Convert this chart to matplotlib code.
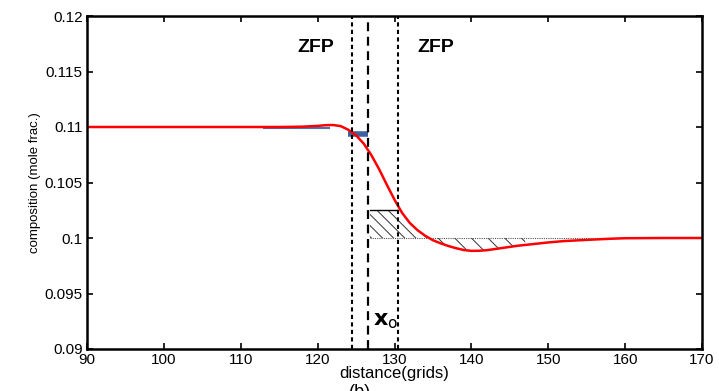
import matplotlib
matplotlib.use("Agg")
import matplotlib.pyplot as plt
import numpy as np

plt.rcParams['font.family'] = ['Liberation Sans', 'DejaVu Sans']
plt.rcParams['hatch.linewidth'] = 0.7

# red composition profile
dist = [90, 100, 110, 115, 118, 120, 121, 122, 123, 124, 125, 126, 127, 128, 129, 130,
        131, 132, 133, 134, 135, 136, 137, 138, 139, 140, 141, 142, 144, 146, 148,
        150, 152, 155, 158, 160, 165, 170]
comp = [0.1100, 0.1100, 0.1100, 0.1100, 0.11003, 0.11010, 0.11016, 0.11018, 0.11008,
        0.10975, 0.10925, 0.10850, 0.10745, 0.10620, 0.10480, 0.10345,
        0.10225, 0.10135, 0.10070, 0.10020, 0.09980, 0.09952, 0.09928, 0.09908,
        0.09892, 0.09884, 0.09885, 0.09890, 0.09910, 0.09930, 0.09945,
        0.09960, 0.09972, 0.09983, 0.09993, 0.09998, 0.10000, 0.10000]

# blue step segments
blue_thin_x = [113, 121.5]
blue_thin_y = [0.10995, 0.10995]
blue_bar_x = [124.0, 126.6]
blue_bar_y = [0.1094, 0.1094]

# boundaries
zfp_left = 124.5
x0_line = 126.5
zfp_right = 130.5
hatch_top = 0.1025
base = 0.1

xticks = [90, 100, 110, 120, 130, 140, 150, 160, 170]
yticks = [0.09, 0.095, 0.1, 0.105, 0.11, 0.115, 0.12]
ytick_labels = ['0.09', '0.095', '0.1', '0.105', '0.11', '0.115', '0.12']

fig = plt.figure(figsize=(7.19, 3.91), dpi=100)
ax = fig.add_axes([87/719, 1-349/391, (702-87)/719, (349-16)/391])

d = np.array(dist); c = np.array(comp)

# hatched region 1 (between 0.1 and min(curve, top))
m1 = (d >= 127) & (d <= 134.5)
x1 = np.concatenate([[126.8], d[m1], [134.5]])
y1 = np.interp(x1, d, c)
ax.fill_between(x1, base, np.minimum(y1, hatch_top), facecolor='none', edgecolor='#333333',
                hatch='\\\\\\', linewidth=0)
# hatched region 2 (curve below 0.1)
m2 = (d >= 134.5) & (d <= 147)
x2 = np.concatenate([[134.5], d[m2], [147]])
y2 = np.interp(x2, d, c)
ax.fill_between(x2, y2, base, facecolor='none', edgecolor='#333333',
                hatch='\\\\', linewidth=0)
ax.plot([126.8, zfp_right], [hatch_top, hatch_top], color='black', lw=1.0)
ax.plot([126.8, 160], [base, base], color='#555555', lw=0.8, ls=(0, (1, 1)))

ax.plot(blue_thin_x, blue_thin_y, color='#4a72b0', lw=1.5)
ax.plot(blue_bar_x, blue_bar_y, color='#3f63a0', lw=4, solid_capstyle='butt')

ax.plot(dist, comp, color='red', lw=1.8)

ax.axvline(zfp_left, color='black', lw=1.5, ls=(0, (2, 1.6)))
ax.axvline(x0_line, color='black', lw=1.6, ls=(0, (4, 2.5)))
ax.axvline(zfp_right, color='black', lw=1.5, ls=(0, (2, 1.6)))

ax.text(119.8, 0.1172, 'ZFP', fontsize=14, fontweight='bold', ha='center', va='center')
ax.text(135.4, 0.1172, 'ZFP', fontsize=14, fontweight='bold', ha='center', va='center')
ax.text(128.9, 0.0926, r'$\mathbf{x}_{\mathrm{o}}$', fontsize=16, ha='center', va='center')

ax.set_xlim(90, 170)
ax.set_ylim(0.09, 0.12)
ax.set_xticks(xticks)
ax.set_yticks(yticks)
ax.set_yticklabels(ytick_labels)
ax.tick_params(direction='in', length=4, width=1.2, top=True, right=True, labelsize=11,
               pad=3)
for s in ax.spines.values():
    s.set_linewidth(1.8)
ax.set_xlabel('distance(grids)', fontsize=12, labelpad=-1)
ax.set_ylabel('composition (mole frac.)', fontsize=9.5, labelpad=3)

fig.text(360/719, 1-384/391, '(b)', fontsize=13, ha='center', va='top')

fig.savefig('out.png', dpi=100)
